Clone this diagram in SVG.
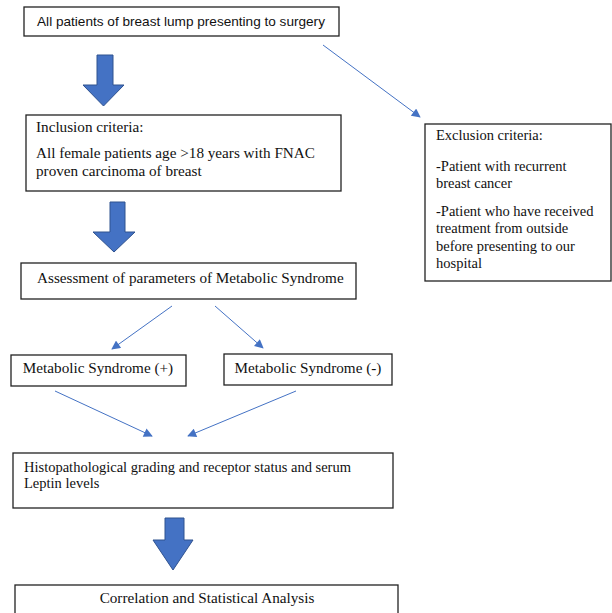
<svg xmlns="http://www.w3.org/2000/svg" width="612" height="613" viewBox="0 0 612 613">
<style>
.box{fill:#fff;stroke:#222;stroke-width:1.3}
.sans{font-family:"Liberation Sans",Arial,sans-serif;font-size:13.6px;fill:#111}
.serif{font-family:"Liberation Serif","Times New Roman",serif;font-size:14.5px;fill:#111}
.big{font-size:15.2px}
.blk{fill:#4472C4;stroke:#2F528F;stroke-width:1}
.conn{stroke:#4472C4;stroke-width:1;fill:none;marker-end:url(#ah)}
</style>
<defs>
<marker id="ah" viewBox="0 0 10 10" refX="9" refY="5" markerWidth="10" markerHeight="9" markerUnits="userSpaceOnUse" orient="auto">
<path d="M0,0 L10,5 L0,10 z" fill="#4472C4"/>
</marker>
</defs>
<rect width="612" height="613" fill="#fff"/>
<g id="connectors">
<path class="blk" d="M97,55 H113 V85 H124 L103.5,106 L83,85 H97 Z"/>
<path class="blk" d="M110,202 H125 V232 H135 L114,252 L93,232 H110 Z"/>
<path class="blk" d="M165,518 H184 V540 H193 L173,570 L153,540 H165 Z"/>
<line class="conn" x1="323" y1="45" x2="420" y2="117"/>
<line class="conn" x1="172" y1="306" x2="112" y2="349"/>
<line class="conn" x1="215" y1="306" x2="263" y2="348"/>
<line class="conn" x1="55" y1="391" x2="152" y2="436"/>
<line class="conn" x1="296" y1="391" x2="188" y2="436"/>
</g>
<g id="n1">
<rect class="box" x="24" y="7" width="315" height="29"/>
<text class="sans" x="181" y="26" text-anchor="middle">All patients of breast lump presenting to surgery</text>
</g>
<g id="n2">
<rect class="box" x="26" y="115" width="315" height="76"/>
<text class="serif big" x="36" y="132">Inclusion criteria:</text>
<text class="serif big" x="36" y="158">All female patients age &gt;18 years with FNAC</text>
<text class="serif big" x="36" y="176">proven carcinoma of breast</text>
</g>
<g id="n3">
<rect class="box" x="425" y="124" width="186" height="157"/>
<text class="serif" x="436" y="140">Exclusion criteria:</text>
<text class="serif" x="436" y="171">-Patient with recurrent</text>
<text class="serif" x="436" y="188">breast cancer</text>
<text class="serif" x="436" y="216">-Patient who have received</text>
<text class="serif" x="436" y="233">treatment from outside</text>
<text class="serif" x="436" y="251">before presenting to our</text>
<text class="serif" x="436" y="268">hospital</text>
</g>
<g id="n4">
<rect class="box" x="21" y="263" width="335" height="36"/>
<text class="serif big" x="37" y="283">Assessment of parameters of Metabolic Syndrome</text>
</g>
<g id="n5">
<rect class="box" x="11" y="355" width="175" height="31"/>
<text class="serif big" x="98" y="373" text-anchor="middle">Metabolic Syndrome (+)</text>
</g>
<g id="n6">
<rect class="box" x="224" y="354" width="168" height="31"/>
<text class="serif big" x="308" y="373" text-anchor="middle">Metabolic Syndrome (-)</text>
</g>
<g id="n7">
<rect class="box" x="13" y="453" width="380" height="55"/>
<text class="serif" x="24" y="472">Histopathological grading and receptor status and serum</text>
<text class="serif" x="24" y="488">Leptin levels</text>
</g>
<g id="n8">
<rect class="box" x="15" y="585" width="383" height="40"/>
<text class="serif big" x="207" y="603" text-anchor="middle">Correlation and Statistical Analysis</text>
</g>
</svg>
